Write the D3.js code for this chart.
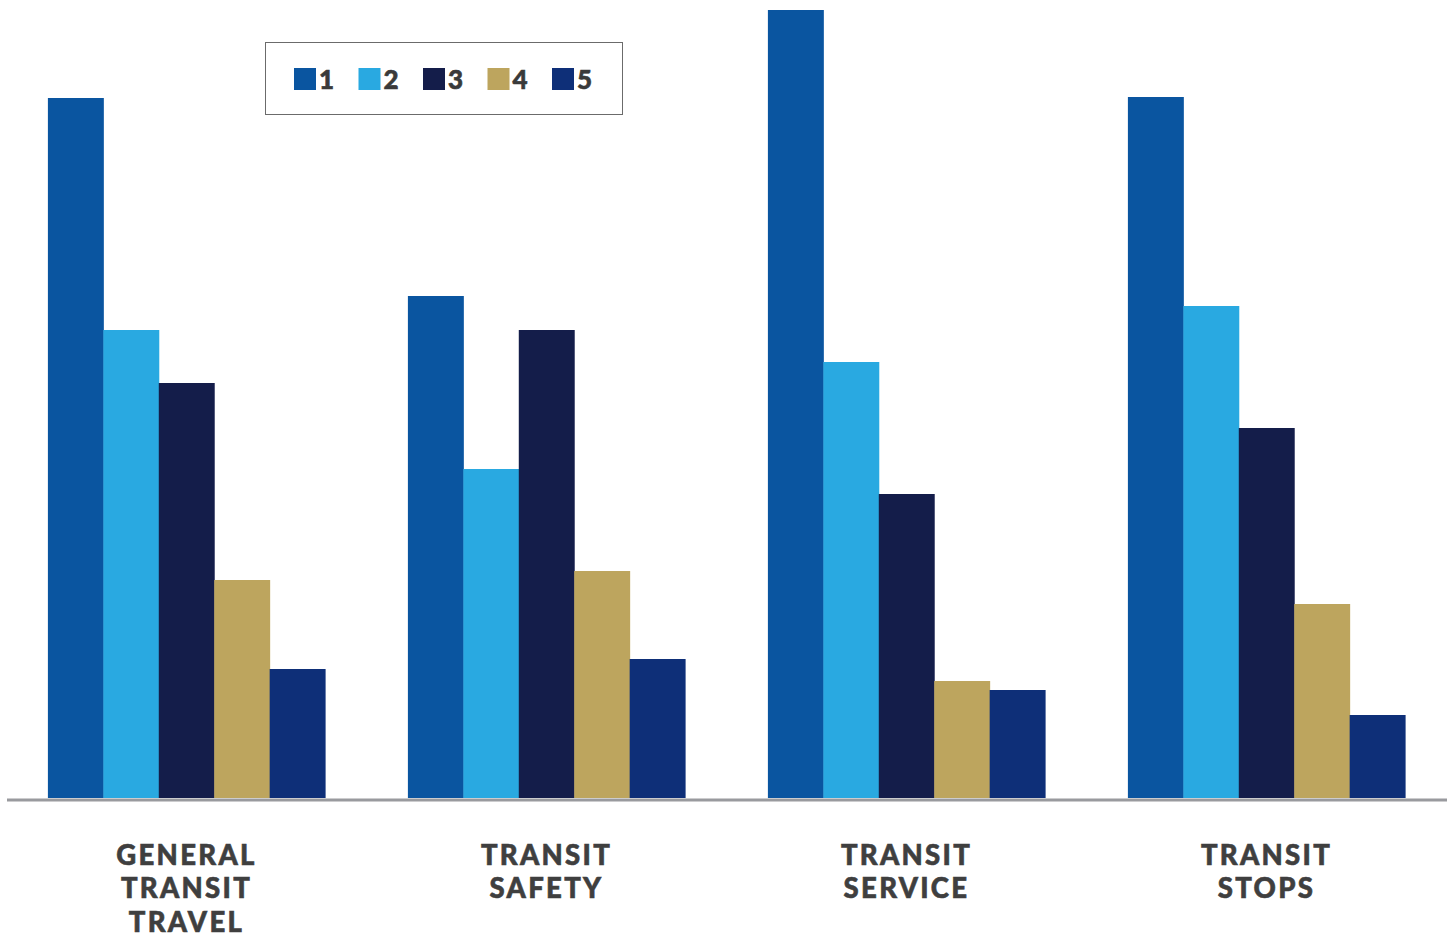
<!DOCTYPE html>
<html><head><meta charset="utf-8">
<script src="https://cdn.jsdelivr.net/npm/d3@7"></script>
<style>body{margin:0;background:#fff;} svg{display:block;}</style>
</head><body>
<svg id="chart" width="1453" height="937"></svg>
<script>
const categories = [["GENERAL","TRANSIT","TRAVEL"],["TRANSIT","SAFETY"],["TRANSIT","SERVICE"],["TRANSIT","STOPS"]];
const categoryKeys = ["General Transit Travel","Transit Safety","Transit Service","Transit Stops"];
const seriesNames = ["1","2","3","4","5"];
const series1 = [70.0, 50.2, 78.8, 70.1];
const series2 = [46.8, 32.9, 43.6, 49.2];
const series3 = [41.5, 46.8, 30.4, 37.0];
const series4 = [21.8, 22.7, 11.7, 19.4];
const series5 = [12.9, 13.9, 10.8, 8.3];
const colors = ["#0a55a0","#29a9e1","#141d4a","#bda55e","#0e2f78"];

const allSeries = [series1, series2, series3, series4, series5];
const data = categoryKeys.map((k,i)=>({key:k, lines:categories[i], values:allSeries.map((s,j)=>({name:seriesNames[j], v:s[i]}))}));

const svg = d3.select("#chart");
const baseY = 798;
const x0 = d3.scaleBand().domain(categoryKeys).range([6.5,1446.5]).paddingInner(0.23).paddingOuter(0.115);
const x1 = d3.scaleBand().domain(seriesNames).range([0, x0.bandwidth()]);
const y = d3.scaleLinear().domain([0,80]).range([baseY, baseY-800]);
const color = d3.scaleOrdinal().domain(seriesNames).range(colors);

const g = svg.append("g");
g.selectAll("g.grp").data(data).join("g").attr("class","grp")
 .attr("transform", d=>`translate(${x0(d.key)},0)`)
 .selectAll("rect").data(d=>d.values).join("rect")
 .attr("x", d=>x1(d.name)).attr("width", x1.bandwidth()+0.5)
 .attr("y", d=>y(d.v)).attr("height", d=>baseY - y(d.v))
 .attr("fill", d=>color(d.name));

// baseline
svg.append("line").attr("x1",7).attr("x2",1447).attr("y1",baseY+2).attr("y2",baseY+2)
 .attr("stroke","#999a9e").attr("stroke-width",3);

// category labels
const lab = svg.append("g").selectAll("text").data(data).join("text")
 .attr("x", d=>x0(d.key)+x0.bandwidth()/2).attr("y", 864.5)
 .attr("text-anchor","middle")
 .attr("font-family","Lato, 'Open Sans', sans-serif").attr("font-weight",900)
 .attr("font-size",27.5).attr("letter-spacing",2.3).attr("fill","#3f3f3f")
 .attr("stroke","#3f3f3f").attr("stroke-width",0.6);
lab.selectAll("tspan").data(d=>d.lines).join("tspan")
 .attr("x", function(){return this.parentNode.getAttribute("x");})
 .attr("dy",(d,i)=>i===0?0:33.5).text(d=>d);

// legend
const leg = svg.append("g");
leg.append("rect").attr("x",265.5).attr("y",42.5).attr("width",357).attr("height",72)
 .attr("fill","#fff").attr("stroke","#6b6b6b").attr("stroke-width",1);
const lx = d3.scalePoint().domain(seriesNames).range([294,552]);
const li = leg.selectAll("g.li").data(seriesNames).join("g").attr("class","li")
 .attr("transform", d=>`translate(${lx(d)},68)`);
li.append("rect").attr("width",22).attr("height",22).attr("fill", d=>color(d));
li.append("text").attr("x",25).attr("y",21).text(d=>d)
 .attr("font-family","Lato, 'Open Sans', sans-serif").attr("font-weight",900)
 .attr("font-size",26).attr("fill","#3a3a3a")
 .attr("stroke","#3a3a3a").attr("stroke-width",0.6);
</script>
</body></html>
